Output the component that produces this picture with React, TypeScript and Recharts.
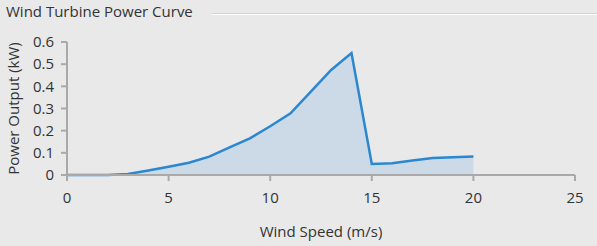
import { Area, AreaChart, XAxis, YAxis } from "recharts"

const windSpeed = [0, 1, 2, 3, 4, 5, 6, 7, 8, 9, 10, 11, 12, 13, 14, 15, 16, 17, 18, 19, 20]
const powerOutput = [
  0, 0, 0, 0.005, 0.02, 0.037, 0.055, 0.083, 0.125, 0.165, 0.22, 0.278, 0.376, 0.474, 0.55, 0.05,
  0.053, 0.065, 0.077, 0.08, 0.084,
]
const xTicks = [0, 5, 10, 15, 20, 25]
const yTicks = [0, 0.1, 0.2, 0.3, 0.4, 0.5, 0.6]

const data = windSpeed.map((speed, i) => ({ speed, power: powerOutput[i] }))

const font = "'Open Sans', 'Liberation Sans', sans-serif"
const axisColor = "#a9a9a9"
const textColor = "#333333"

export default function App() {
  return (
    <div
      style={{
        position: "absolute",
        left: 0,
        top: 0,
        width: 597,
        height: 246,
        background: "#e9e9e9",
        fontFamily: font,
        overflow: "hidden",
      }}
    >
      <div style={{ position: "absolute", left: 6, top: 1, fontSize: 15, color: textColor }}>
        Wind Turbine Power Curve
      </div>
      <div
        style={{
          position: "absolute",
          left: 212,
          right: 0,
          top: 13,
          borderTop: "1px solid #d2d2d2",
          borderBottom: "1px solid #ffffff",
        }}
      />
      <div style={{ position: "absolute", left: 0, top: 0 }}>
        <AreaChart width={597} height={246} data={data} margin={{ top: 42, right: 22, bottom: 6, left: 7 }}>
          <XAxis
            dataKey="speed"
            type="number"
            domain={[0, 25]}
            ticks={xTicks}
            height={65}
            stroke={axisColor}
            strokeWidth={2}
            tickSize={6}
            tickMargin={11}
            tick={{ fill: textColor, fontSize: 15, fontFamily: font }}
            label={{
              value: "Wind Speed (m/s)",
              position: "insideBottom",
              offset: 3,
              fill: textColor,
              fontSize: 15,
              fontFamily: font,
            }}
          />
          <YAxis
            type="number"
            domain={[0, 0.6]}
            ticks={yTicks}
            width={60}
            stroke={axisColor}
            strokeWidth={2}
            tickSize={6}
            tickMargin={7}
            tick={{ fill: textColor, fontSize: 15, fontFamily: font }}
            label={{
              value: "Power Output (kW)",
              angle: -90,
              position: "insideLeft",
              offset: 7,
              fill: textColor,
              fontSize: 15,
              fontFamily: font,
              style: { textAnchor: "middle" },
            }}
          />
          <Area
            type="linear"
            dataKey="power"
            stroke="#2a87d0"
            strokeWidth={2.5}
            fill="#cbdae6"
            fillOpacity={1}
            dot={false}
            isAnimationActive={false}
          />
        </AreaChart>
      </div>
    </div>
  )
}
